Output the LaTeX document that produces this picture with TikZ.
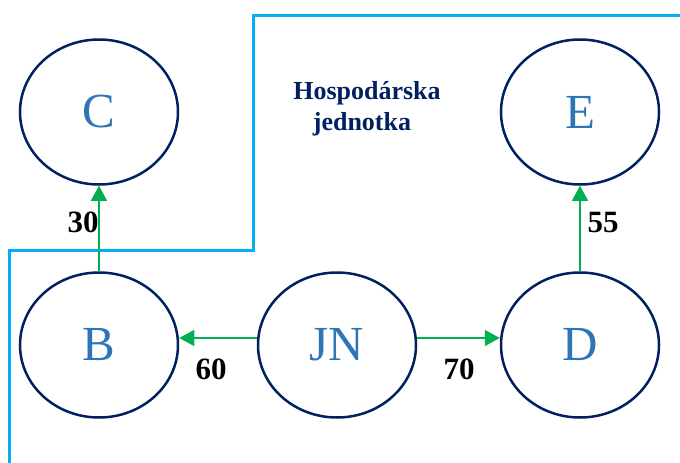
\documentclass[tikz,border=0pt]{standalone}
\usepackage{fontspec}
\setmainfont{Liberation Serif}
\usetikzlibrary{shapes.geometric,arrows.meta}
\definecolor{navy}{HTML}{002060}
\definecolor{letter}{HTML}{2E75B6}
\definecolor{grn}{HTML}{00B050}
\definecolor{cyanline}{HTML}{00B0F0}
\tikzset{
  unit/.style={ellipse, draw=navy, line width=2.5pt, minimum width=158pt, minimum height=145pt, inner sep=0pt,
    text=letter, font=\fontsize{49}{49}\selectfont},
  arr/.style={draw=grn, line width=1.4pt, -{Triangle[length=15pt,width=16pt]}},
  num/.style={font=\bfseries\fontsize{31}{31}\selectfont, text=black, inner sep=0pt},
  ttl/.style={font=\bfseries\fontsize{26}{31}\selectfont, text=navy, inner sep=0pt, anchor=base},
  border/.style={draw=cyanline, line width=3pt}
}
\begin{document}
\begin{tikzpicture}[x=1pt,y=-1pt]
\useasboundingbox (0,0) rectangle (680,463);
\draw[border] (680,15) -- (253,15) -- (253,250) -- (9,250) -- (9,463);
\node[unit] (C) at (99,112) {C};
\node[unit] (E) at (580,112) {E};
\node[unit] (B) at (99,345) {B};
\node[unit] (JN) at (337,345) {JN};
\node[unit] (D) at (580,345) {D};
\node[ttl] (t1) at (367,99) {Hospodárska};
\node[ttl] (t2) at (362,130) {jednotka};
\draw[arr] (B) -- (C);
\draw[arr] (D) -- (E);
\draw[arr] ([yshift=7pt]JN.west) -- ([yshift=7pt]B.east);
\draw[arr] ([yshift=7pt]JN.east) -- ([yshift=7pt]D.west);
\node[num] (l30) at (83,222) {30};
\node[num] (l55) at (603,222) {55};
\node[num] (l60) at (211,369) {60};
\node[num] (l70) at (459,369) {70};
\end{tikzpicture}
\end{document}
